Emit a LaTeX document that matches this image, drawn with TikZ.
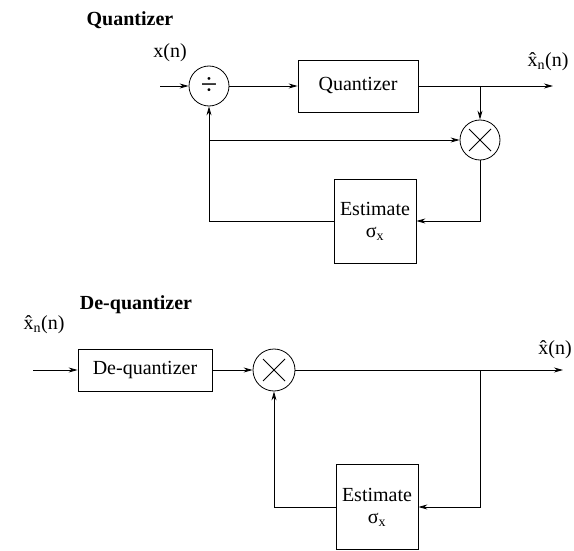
\documentclass[tikz,border=0pt]{standalone}
\usepackage{fontspec}
\setmainfont{Liberation Serif}
\usetikzlibrary{arrows.meta,calc}
\begin{document}
\begin{tikzpicture}[x=1pt,y=-1pt, line width=0.8pt,
 font=\fontsize{20}{22}\selectfont,
 blk/.style={draw, rectangle, inner sep=0pt, align=center},
 junc/.style={draw, circle, inner sep=0pt, minimum size=40pt},
 mult/.style={junc, path picture={\draw[line width=0.8pt]
   ([shift={(-11pt,-11pt)}]path picture bounding box.center) -- ([shift={(11pt,11pt)}]path picture bounding box.center)
   ([shift={(-11pt,11pt)}]path picture bounding box.center) -- ([shift={(11pt,-11pt)}]path picture bounding box.center);}},
 arr/.style={-{Stealth[length=9pt,width=5pt]}},
 ttl/.style={font=\fontsize{20}{22}\selectfont\bfseries},
 lbl/.style={inner sep=0pt}]
\useasboundingbox (0,0) rectangle (574,551);
% ---------- Quantizer ----------
\node[ttl] (t1) at (130,20) {Quantizer};
\node[lbl] (xl) at (170,53) {x(n)};
\coordinate (xin) at (160,86);
\node[junc, font=\fontsize{30}{30}\selectfont] (div) at (209,86) {÷};
\node[blk, minimum width=120pt, minimum height=52pt] (q) at (358,86) {Quantizer};
\coordinate (b1) at (480,86);
\coordinate (o1) at (553,86);
\node[lbl] (o1l) at (548,62) {\^{x}\textsubscript{n}(n)};
\node[mult] (m1) at (480,140) {};
\node[blk, minimum width=82pt, minimum height=84pt] (e1) at (375,221) {Estimate\\σ\textsubscript{x}};
\draw[arr] (xin) -- (div);
\draw[arr] (div) -- (q);
\draw[arr] (q) -- (o1);
\draw[arr] (b1) -- (m1);
\draw[arr] (m1.south) |- (e1.east);
\draw[arr] (e1.west) -| (div.south);
\draw[arr] (div |- m1) -- (m1.west);
% ---------- De-quantizer ----------
\node[ttl] (t2) at (136,305) {De-quantizer};
\node[lbl] (il2) at (44,325) {\^{x}\textsubscript{n}(n)};
\coordinate (xin2) at (33,370);
\node[blk, minimum width=134pt, minimum height=42pt] (dq) at (145,370) {De-quantizer};
\node[mult, minimum size=42pt] (m2) at (274,370) {};
\coordinate (o2) at (563,370);
\node[lbl] (o2l) at (555,350) {\^{x}(n)};
\coordinate (b2) at (480,370);
\node[blk, minimum width=82pt, minimum height=85pt] (e2) at (377,507) {Estimate\\σ\textsubscript{x}};
\draw[arr] (xin2) -- (dq);
\draw[arr] (dq) -- (m2);
\draw[arr] (m2) -- (o2);
\draw[arr] (b2) |- (e2.east);
\draw[arr] (e2.west) -| (m2.south);
\end{tikzpicture}
\end{document}
